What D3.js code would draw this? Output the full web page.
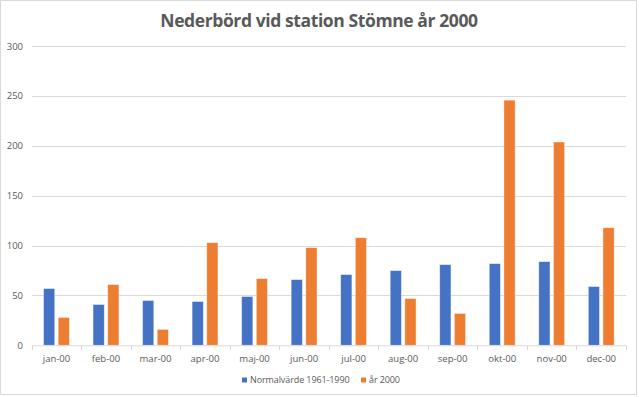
<!DOCTYPE html>
<html>
<head>
<meta charset="utf-8">
<script src="https://cdn.jsdelivr.net/npm/d3@7"></script>
<style>
  html, body { margin: 0; padding: 0; background: #fff; }
  svg { display: block; }
</style>
</head>
<body>
<svg id="chart" width="639" height="397"></svg>
<script>
const months = ["jan-00","feb-00","mar-00","apr-00","maj-00","jun-00","jul-00","aug-00","sep-00","okt-00","nov-00","dec-00"];
const seriesNames = ["Normalvärde 1961-1990", "år 2000"];
const normal = [57, 41, 45, 44, 49, 66, 71, 75, 81, 82, 84, 59];
const year2000 = [28, 61, 16, 103, 67, 98, 108, 47, 32, 246, 204, 118];
const yTicks = [0, 50, 100, 150, 200, 250, 300];
const colors = ["#4472C4", "#ED7D31"];

const svg = d3.select("#chart");
const font = "Open Sans, Liberation Sans, sans-serif";
const txt = "#595959";

// border
svg.append("rect").attr("x", 0.5).attr("y", 0.5).attr("width", 636).attr("height", 394)
  .attr("fill", "#fff").attr("stroke", "#d9d9d9");

const pLeft = 31.7, pRight = 626, pTop = 46.3, pBottom = 345.3;

const y = d3.scaleLinear().domain([0, 300]).range([pBottom, pTop]);
const x0 = d3.scaleBand().domain(months).range([pLeft, pRight]).paddingInner(0).paddingOuter(0);
const x1 = d3.scaleBand().domain([0, 1]).range([11.8, x0.bandwidth() - 11.8]).paddingInner(0.23).paddingOuter(0);

// gridlines
svg.append("g").selectAll("line").data(yTicks.filter(d => d > 0)).join("line")
  .attr("x1", pLeft).attr("x2", pRight)
  .attr("y1", d => Math.round(y(d)) + 0.5).attr("y2", d => Math.round(y(d)) + 0.5)
  .attr("stroke", "#d9d9d9").attr("stroke-width", 1);

// y labels
svg.append("g").selectAll("text").data(yTicks).join("text")
  .attr("x", 23).attr("y", d => y(d)).attr("dy", "0.35em")
  .attr("text-anchor", "end").attr("font-family", font).attr("font-size", 9.5)
  .attr("fill", txt).text(d => d);

// bars
const data = months.map((m, i) => ({ m, vals: [normal[i], year2000[i]] }));
const g = svg.append("g");
g.selectAll("g").data(data).join("g")
  .attr("transform", d => `translate(${x0(d.m)},0)`)
  .selectAll("rect").data(d => d.vals.map((v, k) => ({ v, k }))).join("rect")
  .attr("x", d => x1(d.k)).attr("width", x1.bandwidth())
  .attr("y", d => y(d.v)).attr("height", d => pBottom - y(d.v))
  .attr("fill", d => colors[d.k])
  .attr("stroke", "#fff").attr("stroke-opacity", 0.6).attr("stroke-width", 0.8);

// x axis
const ax = svg.append("g").attr("transform", `translate(0,${pBottom})`);
ax.append("line").attr("x1", pLeft).attr("x2", pRight).attr("y1", 0.5).attr("y2", 0.5)
  .attr("stroke", "#d9d9d9");
ax.selectAll("line.tick").data(d3.range(months.length + 1)).join("line")
  .attr("class", "tick")
  .attr("x1", i => Math.round(pLeft + i * x0.step()) + 0.5)
  .attr("x2", i => Math.round(pLeft + i * x0.step()) + 0.5)
  .attr("y1", 0.5).attr("y2", 5).attr("stroke", "#d9d9d9");
ax.selectAll("text").data(months).join("text")
  .attr("x", d => x0(d) + x0.bandwidth() / 2).attr("y", 13).attr("dy", "0.35em")
  .attr("text-anchor", "middle").attr("font-family", font).attr("font-size", 9.5)
  .attr("fill", txt).text(d => d);

// title
svg.append("text").attr("x", 319).attr("y", 26.7).attr("text-anchor", "middle")
  .attr("font-family", font).attr("font-weight", "bold").attr("font-size", 17.5)
  .attr("letter-spacing", -0.4)
  .attr("fill", txt).text("Nederbörd vid station Stömne år 2000");

// legend
const legend = svg.append("g").attr("transform", "translate(0,380)");
const legX = [242, 361];
seriesNames.forEach((n, k) => {
  legend.append("rect").attr("x", legX[k]).attr("y", -2.5).attr("width", 5).attr("height", 5).attr("fill", colors[k]);
  legend.append("text").attr("x", legX[k] + 8).attr("y", 0).attr("dy", "0.35em")
    .attr("font-family", font).attr("font-size", 9).attr("letter-spacing", -0.1)
    .attr("fill", txt).text(n);
});
</script>
</body>
</html>
